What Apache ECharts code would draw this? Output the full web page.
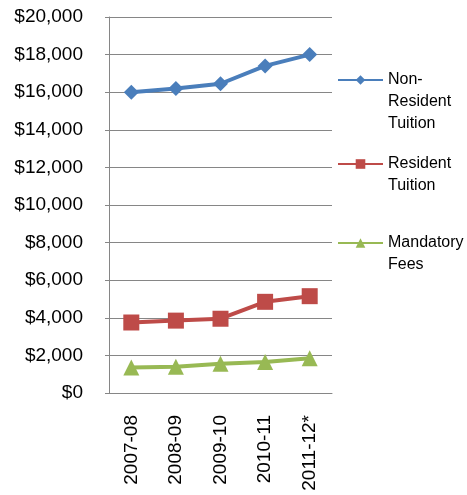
<!DOCTYPE html>
<html><head><meta charset="utf-8">
<script src="https://cdn.jsdelivr.net/npm/echarts@6/dist/echarts.min.js"></script>
<style>html,body{margin:0;padding:0;background:#fff}#c{width:467px;height:495px}</style>
</head><body><div id="c"></div>
<script>
var categories = ['2007-08', '2008-09', '2009-10', '2010-11', '2011-12*'];
var nonResident = [16000, 16200, 16450, 17400, 18000];
var resident = [3750, 3850, 3950, 4850, 5150];
var mandatoryFees = [1350, 1400, 1550, 1650, 1850];
var seriesNames = ['Non-Resident Tuition', 'Resident Tuition', 'Mandatory Fees'];
var legendLabels = [' \n \nNon-\nResident\nTuition', ' \nResident\nTuition', ' \nMandatory\nFees'];

var font = 'Liberation Sans';
var chart = echarts.init(document.getElementById('c'), null, {renderer: 'canvas'});
function mkLegend(i, top) {
  return {
    left: 337, top: top, padding: 0, orient: 'vertical',
    itemWidth: 45, itemHeight: 12,
    data: [seriesNames[i]],
    formatter: function (n) { return legendLabels[seriesNames.indexOf(n)]; },
    textStyle: {fontFamily: font, fontSize: 16, color: '#000', lineHeight: 22}
  };
}
chart.setOption({
  animation: false,
  grid: {left: 109, top: 17, right: 135, bottom: 102, containLabel: false},
  legend: [mkLegend(0, 25), mkLegend(1, 131), mkLegend(2, 210)],
  xAxis: {
    type: 'category', data: categories, boundaryGap: true,
    axisLine: {lineStyle: {color: '#868686', width: 1}},
    axisTick: {show: false},
    axisLabel: {rotate: 90, margin: 22, fontFamily: font, fontSize: 19, color: '#000', interval: 0}
  },
  yAxis: {
    type: 'value', min: 0, max: 20000, interval: 2000,
    axisLine: {show: true, lineStyle: {color: '#868686', width: 1}},
    axisTick: {show: true, length: 4, lineStyle: {color: '#868686'}},
    splitLine: {lineStyle: {color: '#868686', width: 1}},
    axisLabel: {margin: 26, fontFamily: font, fontSize: 19, color: '#000',
      formatter: function (v) { return '$' + v.toLocaleString('en-US'); }}
  },
  series: [
    {name: seriesNames[0], type: 'line', data: nonResident, symbol: 'diamond', symbolSize: 15,
     color: '#4A7EBB', lineStyle: {width: 4, color: '#4A7EBB'}, itemStyle: {color: '#4A7EBB'}},
    {name: seriesNames[1], type: 'line', data: resident, symbol: 'rect', symbolSize: 16,
     color: '#BE4B48', lineStyle: {width: 4, color: '#BE4B48'}, itemStyle: {color: '#BE4B48'}},
    {name: seriesNames[2], type: 'line', data: mandatoryFees, symbol: 'triangle', symbolSize: 16,
     color: '#98B954', lineStyle: {width: 4, color: '#98B954'}, itemStyle: {color: '#98B954'}}
  ]
});
</script></body></html>
